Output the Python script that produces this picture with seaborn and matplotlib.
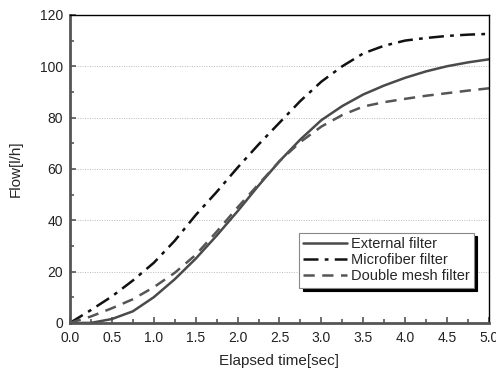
import pandas as pd
import matplotlib.pyplot as plt
import matplotlib as mpl
import seaborn as sns
from matplotlib.ticker import MultipleLocator

sns.set_style("ticks")
mpl.rcParams["font.family"] = ["Liberation Sans", "DejaVu Sans"]

time_sec = [0, 0.25, 0.5, 0.75, 1.0, 1.25, 1.5, 1.75, 2.0, 2.25, 2.5,
            2.75, 3.0, 3.25, 3.5, 3.75, 4.0, 4.25, 4.5, 4.75, 5.0]
external = [0, 0, 1.5, 4.5, 10, 17, 25, 34, 43.5, 53.5, 63,
            71.5, 79, 84.5, 89, 92.5, 95.5, 98, 100, 101.5, 102.7]
microfiber = [0, 5, 10.3, 16.5, 23.4, 32, 42, 51, 60.5, 69.5, 78,
              86.5, 94, 100, 105, 108, 110, 111, 111.8, 112.3, 112.6]
double_mesh = [0, 2.5, 5.7, 9.2, 13.9, 19.5, 26.5, 35.5, 45, 54, 63,
               70.5, 76.5, 81, 84.3, 86, 87.3, 88.5, 89.5, 90.5, 91.4]

series = {
    "External filter": (external, "#4a4a4a", "-"),
    "Microfiber filter": (microfiber, "#111111", (0, (6, 2.5, 1.5, 2.5))),
    "Double mesh filter": (double_mesh, "#555555", (0, (4.5, 3))),
}

fig = plt.figure(figsize=(4.96, 3.72), dpi=100)
ax = fig.add_axes([0.141, 0.132, 0.845, 0.828])

for name, (vals, col, ls) in series.items():
    df = pd.DataFrame({"t": time_sec, "flow": vals})
    sns.lineplot(data=df, x="t", y="flow", ax=ax, color=col,
                 linestyle=ls, linewidth=1.8, label=name)

ax.set_xlim(0, 5)
ax.set_ylim(0, 120)
ax.xaxis.set_major_locator(MultipleLocator(0.5))
ax.xaxis.set_minor_locator(MultipleLocator(0.25))
ax.yaxis.set_major_locator(MultipleLocator(20))
ax.yaxis.set_minor_locator(MultipleLocator(10))
ax.xaxis.set_major_formatter(mpl.ticker.FormatStrFormatter("%.1f"))
ax.tick_params(which="both", direction="in", colors="#555555",
               labelcolor="#222222", labelsize=10)
ax.tick_params(which="major", length=4, width=1.2)
ax.tick_params(which="minor", length=3, width=1.2)
ax.tick_params(axis="x", which="major", pad=6)
ax.tick_params(axis="y", which="major", pad=5)

for y in [20, 40, 60, 80, 100]:
    ax.axhline(y, color="#bbbbbb", linestyle=(0, (1, 1.5)), linewidth=0.7, zorder=0)

for s in ["left", "bottom"]:
    ax.spines[s].set_color("#555555")
    ax.spines[s].set_linewidth(2)
for s in ["top", "right"]:
    ax.spines[s].set_color("black")
    ax.spines[s].set_linewidth(1)

ax.set_xlabel("Elapsed time[sec]", fontsize=11, labelpad=6)
ax.set_ylabel("Flow[l/h]", fontsize=11, labelpad=12)

leg = ax.legend(loc="lower right", bbox_to_anchor=(0.964, 0.114),
                fancybox=False, framealpha=1, edgecolor="#888888",
                fontsize=10.5, handlelength=3.0, handletextpad=0.25,
                labelspacing=0.15, borderpad=0.3, borderaxespad=0,
                shadow={"color": "black", "alpha": 1, "ox": 2.5, "oy": -2.5})
leg.get_frame().set_linewidth(0.8)

fig.savefig("out.png", dpi=100)
